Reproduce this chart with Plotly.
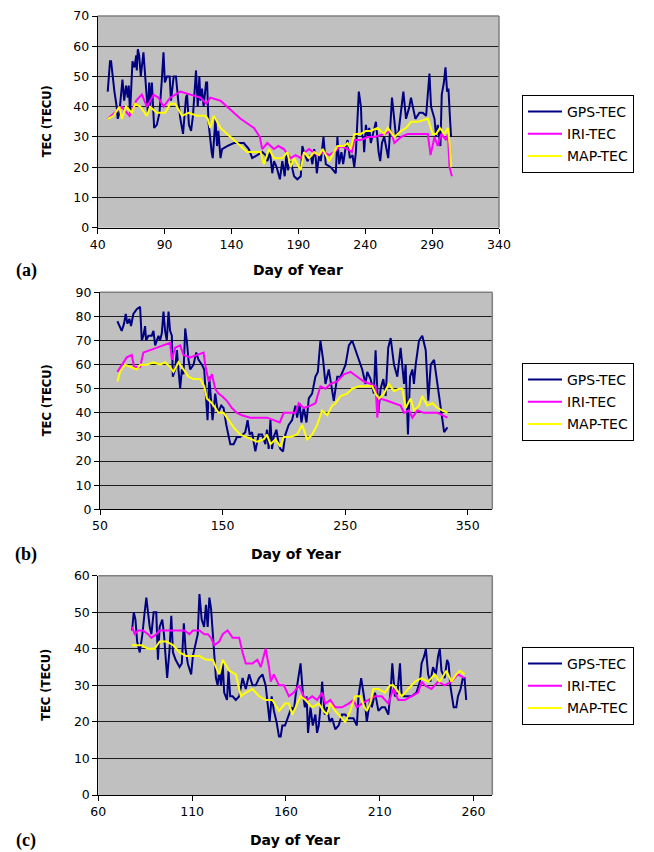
import plotly.graph_objects as go

# page is drawn with an 8px body margin, so the figure is 8px smaller and shifted
OFF = 8
W, H = 654 - OFF, 852 - OFF

# ---------------- Panel (a) ----------------
a_gps_day = [47.5, 49.2, 50, 51.2, 52.5, 54.2, 55, 56.2, 58.5, 59.8, 61.2, 62.5, 63.2, 64.2, 66, 67.5, 68.8, 69.2, 70, 71,
             72.2, 74.2, 75.5, 76.8, 77.5, 78.5, 79.2, 80.5, 81.2, 82.2, 84.2, 86.2, 87.8, 88.5, 89.2, 90.2, 91.8, 93.8, 94.8, 96.8,
             98.5, 100.2, 101.8, 103.8, 105, 106, 106.8, 108.2, 109.8, 111.2, 113.5, 114.8, 116, 116.8, 118, 119.2, 121, 121.8, 122.8, 123.8,
             125.2, 126, 127.2, 128, 129.2, 130.2, 131.8, 133, 136.8, 141.8, 149.2, 153, 155.5, 159.2, 163, 165.5, 166.8, 168.8, 170.5, 171.8,
             173.8, 176.2, 178, 179.8, 181.2, 182.2, 184.2, 186.8, 189.2, 191.8, 193, 194.2, 196.8, 199.2, 200.5, 201.8, 203, 203.8, 205.5, 206.8,
             208.8, 210.5, 214.2, 218, 219.2, 220.5, 222.2, 223.5, 225.5, 226.8, 228.5, 230.5, 231.8, 233, 234.2, 235.2, 236.8, 237.5, 238.8, 239.2,
             240.5, 241.8, 243, 244.2, 248, 250, 251.2, 252.5, 254.2, 256.2, 257.2, 258, 260, 261.2, 263, 265, 266.8, 268.5, 270.5, 273,
             274.2, 276.2, 277.5, 280.5, 283, 285.5, 288, 289.2, 290.5, 291.8, 293, 294.2, 296.2, 297.2, 298.8, 300, 301.2, 302.2, 303.5, 304.2]
a_gps_tec = [45, 55, 55, 50, 45, 40, 36, 38, 49, 42, 47, 43, 47, 38, 55, 53, 57, 52, 59, 57,
             50, 58, 50, 44, 38, 48, 40, 48, 43, 33, 34, 38, 48, 56, 58, 48, 50, 50, 42, 50,
             50, 42, 36, 31, 38, 43, 44, 34, 32, 37, 52, 40, 50, 42, 46, 40, 48, 48, 35, 30,
             25, 23, 32, 36, 27, 32, 23, 26, 27, 28, 28, 26, 23, 24, 25, 24, 22, 25, 18, 22,
             20, 16, 22, 17, 25, 19, 22, 17, 16, 17, 27, 25, 22, 24, 21, 26, 23, 18, 24, 22,
             30, 21, 20, 18, 30, 21, 25, 21, 27, 29, 23, 24, 20, 25, 39, 45, 40, 31, 29, 25,
             34, 30, 33, 28, 35, 25, 22, 28, 30, 25, 23, 28, 43, 38, 30, 32, 38, 45, 36, 40,
             43, 38, 36, 38, 38, 37, 51, 40, 38, 36, 30, 34, 27, 44, 48, 53, 45, 46, 35, 30]

a_iri_day = [47.5, 53, 58, 63.8, 68.8, 73, 76.8, 81.8, 85.5, 89.2, 94.2, 101.8, 109.2, 116.8, 121.2, 124.2, 131.8, 136.8, 146.8, 156.8,
             161.2, 163, 166.8, 171.8, 175, 179.2, 184.2, 188, 191.8, 195, 198, 204.2, 209.2, 213, 216.8, 221.8, 226.8, 230, 231.8, 236.8,
             241.8, 246.8, 254.2, 259.2, 261.8, 266.8, 271.8, 286.8, 288.8, 291.8, 294.2, 296.8, 300.5, 301.8, 303, 304.8]
a_iri_tec = [36, 38, 40, 37, 42, 44, 40, 44, 43, 40, 43, 45, 44, 43, 41, 43, 42, 40, 36, 33,
             30, 26, 28, 26, 27, 26, 23, 24, 23, 25, 26, 24, 25, 24, 25, 27, 26, 25, 29, 29,
             30, 30, 31, 32, 28, 30, 31, 31, 24, 30, 27, 31, 29, 31, 20, 17]

a_map_day = [47.5, 51.8, 56.2, 58, 61.2, 65.5, 68, 71.8, 76.8, 79.2, 84.2, 90.5, 94.2, 98, 103, 108, 114.2, 120.5, 122.2, 124.2,
             126.8, 131.8, 141.8, 151.8, 161.8, 164.2, 168, 171.8, 178, 181.8, 184.2, 186.8, 190.5, 191.8, 194.2, 198, 201.8, 205.5, 208.2, 213,
             216.8, 219.2, 224.2, 226.8, 229.2, 231.8, 236.8, 240.5, 244.2, 249.2, 254.2, 256.8, 261.8, 266.8, 270.5, 274.2, 279.2, 286.8, 290.5, 293,
             295.8, 299.2, 301.8, 303, 304.2]
a_map_tec = [36, 37, 40, 36, 40, 38, 41, 40, 37, 40, 38, 38, 41, 41, 37, 38, 37, 37, 36, 33,
             37, 33, 29, 25, 25, 21, 26, 23, 23, 25, 20, 23, 20, 19, 25, 23, 25, 24, 26, 22,
             25, 27, 27, 28, 26, 31, 31, 32, 32, 33, 31, 33, 30, 32, 33, 35, 35, 36, 31, 31,
             33, 31, 33, 28, 20]

# ---------------- Panel (b) ----------------
b_gps_day = [64.2, 67.7, 69.6, 71, 72.3, 74, 75.3, 77.2, 80, 82.7, 84.1, 85.4, 86.8, 87.6, 89.5, 92.2, 93.6, 95, 97.7, 99,
             100.4, 101.8, 103.1, 104.5, 105.9, 107.2, 108.6, 109.4, 111.3, 112.7, 114, 115.4, 116.8, 118.1, 119.5, 120.8, 122.2, 123.6, 126.3, 128.5,
             130.4, 133.1, 135, 136.4, 137.7, 139.1, 140.5, 141.8, 144, 146.2, 148.9, 150.8, 153, 154.9, 156.3, 159, 161.7, 164.4, 168.5, 170.4,
             172.1, 174, 176.7, 179.4, 182.2, 184.9, 186.2, 187.6, 189, 190.3, 191.7, 193.9, 195.8, 197.1, 199.3, 201.2, 203.9, 206.7, 208, 209.4,
             210.8, 212.7, 214.3, 216.2, 218.4, 220.3, 223, 225.7, 227.7, 229.8, 232, 233.9, 236.6, 238.8, 240.7, 243.5, 246.2, 250.3, 253, 255.7,
             259.8, 263.9, 266.6, 268, 270.7, 273.4, 274.8, 277, 278.9, 281.1, 283, 285.1, 287.1, 289.8, 292.5, 295.2, 298, 299.3, 301.2, 302.9,
             304.8, 306.1, 307.5, 310.2, 312.9, 315.7, 317.8, 319.8, 322.5, 325.2, 328, 330.7, 333.4]
b_gps_tec = [78, 74, 77, 81, 77, 79, 76, 81, 83, 84, 70, 72, 76, 70, 72, 72, 74, 68, 72, 70,
             73, 82, 74, 70, 82, 74, 72, 55, 58, 66, 58, 50, 58, 56, 75, 70, 62, 58, 60, 65,
             62, 60, 58, 44, 37, 55, 45, 37, 48, 40, 43, 42, 35, 30, 27, 27, 30, 30, 32, 37,
             31, 32, 24, 31, 31, 27, 33, 25, 37, 25, 30, 33, 27, 25, 24, 31, 35, 37, 40, 43,
             38, 44, 36, 42, 36, 46, 48, 55, 57, 70, 62, 52, 58, 50, 45, 55, 55, 60, 68, 70,
             64, 58, 52, 57, 54, 48, 66, 40, 50, 54, 47, 67, 71, 60, 55, 67, 52, 60, 31, 55,
             58, 52, 60, 70, 72, 66, 45, 60, 62, 52, 40, 32, 34]

b_iri_day = [64.2, 67.7, 71.8, 75.9, 77.8, 82.7, 85.4, 90.9, 96.3, 101.8, 107.2, 108.6, 111.3, 115.4, 118.1, 123.6, 129, 134.5, 135.8, 138.6,
             141.3, 144, 146.7, 149.5, 153.5, 157.6, 161.7, 165.8, 172.6, 179.4, 186.2, 191.7, 196.6, 199.9, 205.3, 209.4, 212.1, 216.2, 221.7, 225.7,
             229.8, 233.9, 238, 243.5, 248.9, 254.4, 259.8, 265.3, 270.7, 274.8, 276.2, 277.5, 284.3, 289.8, 295.2, 298, 302, 304.8, 308.9, 314.3,
             319.8, 325.2, 333.4]
b_iri_tec = [57, 60, 63, 64, 59, 59, 65, 66, 67, 68, 69, 62, 67, 68, 64, 63, 64, 65, 60, 53,
             56, 50, 48, 47, 45, 42, 40, 39, 38, 38, 38, 37, 36, 40, 40, 40, 44, 42, 43, 44,
             51, 50, 52, 53, 56, 57, 55, 53, 52, 51, 38, 46, 45, 44, 43, 40, 41, 38, 41, 40,
             40, 40, 38]

b_map_day = [64.2, 66.3, 70.4, 74.5, 80, 82.7, 88.1, 93.6, 99, 103.1, 107.2, 109.9, 114, 118.1, 122.2, 126.3, 131.7, 135, 137.2, 141.3,
             144, 146.7, 150.8, 154.9, 159, 164.4, 169.9, 174, 178.1, 183.5, 186.2, 189, 193.1, 197.1, 199.9, 205.3, 210.8, 214.9, 219, 223,
             227.1, 231.2, 235.3, 239.4, 242.1, 246.2, 251.6, 255.7, 261.2, 266.6, 272.1, 274.8, 277.5, 281.6, 285.7, 289.8, 293.9, 296.6, 299.3, 303.4,
             306.1, 310.2, 312.9, 317, 321.1, 325.2, 333.4]
b_map_tec = [53, 57, 60, 59, 58, 60, 60, 61, 60, 61, 59, 57, 61, 58, 55, 54, 54, 51, 46, 44,
             42, 40, 40, 37, 34, 31, 30, 29, 28, 29, 31, 27, 29, 26, 30, 30, 31, 35, 29, 31,
             35, 41, 39, 43, 44, 47, 48, 50, 51, 51, 51, 48, 46, 48, 52, 49, 50, 50, 42, 46,
             41, 43, 47, 43, 44, 42, 40]

# ---------------- Panel (c) ----------------
c_gps_day = [78, 78.9, 79.8, 80.7, 82.1, 83.5, 84.7, 85.6, 86.5, 87.4, 88.3, 89.5, 90.9, 91.8, 92.7, 94.1, 95, 95.7, 96.7, 98,
             98.9, 99.8, 101.2, 103.3, 104.5, 105.6, 106.5, 107.7, 109.5, 110.4, 111.8, 113, 113.9, 115.1, 116.4, 117.4, 118.3, 119.2, 120.1, 121,
             121.8, 122.7, 123.6, 124.5, 125.4, 126.3, 127.1, 128.6, 129.4, 130.3, 131.6, 133.3, 135.1, 136.9, 138.6, 140.4, 142.2, 143.9, 145.7, 147.5,
             149.2, 150.1, 151.3, 152.4, 153.6, 155, 156.3, 157.2, 158.1, 159.5, 160.7, 161.6, 163, 164.2, 165.1, 166.4, 167.8, 169, 170.1, 171,
             171.8, 173.1, 174.3, 175.7, 176.6, 177.5, 178.6, 179.3, 180.7, 181.9, 183.3, 184.6, 186.3, 188.1, 189.9, 191.6, 193.4, 196, 197.8, 198.7,
             200.1, 201.3, 202.2, 203.1, 204.9, 205.8, 207.5, 209.3, 211.1, 212.8, 214.6, 216, 216.7, 218.1, 219.5, 220.8, 221.7, 223.4, 227, 229.6,
             231.4, 232.3, 233.7, 234.6, 235.8, 237, 238.4, 239.9, 241.1, 242, 242.9, 244.6, 245.9, 246.7, 247.6, 248.5, 249.4, 250.8, 251.7, 253.1,
             254.3, 255.2, 255.8, 256.1]
c_gps_tec = [45, 50, 48, 42, 39, 44, 50, 54, 50, 46, 44, 50, 50, 37, 46, 48, 44, 38, 32, 40,
             49, 39, 37, 35, 36, 47, 40, 36, 33, 38, 41, 44, 55, 48, 46, 52, 46, 54, 51, 44,
             40, 32, 30, 34, 30, 36, 28, 26, 34, 27, 27, 26, 27, 32, 29, 33, 30, 30, 32, 33,
             30, 25, 20, 27, 23, 20, 16, 16, 19, 19, 21, 22, 24, 23, 27, 31, 36, 28, 24, 27,
             17, 24, 19, 22, 17, 19, 25, 31, 22, 24, 20, 21, 18, 19, 22, 22, 21, 21, 19, 27,
             32, 28, 25, 20, 26, 24, 28, 23, 24, 24, 22, 30, 36, 27, 28, 36, 27, 27, 27, 28,
             31, 36, 38, 40, 33, 31, 35, 33, 38, 40, 34, 32, 37, 36, 30, 27, 24, 24, 27, 29,
             32, 32, 28, 26]

c_iri_day = [78, 79.4, 81.2, 83.9, 86.5, 88.3, 90.9, 92.7, 96.2, 99.8, 103.3, 105.9, 108.6, 110.4, 113.9, 116.5, 118.3, 120.1, 121.8, 124.5,
             126.3, 128.9, 131.6, 135.1, 136.9, 138.6, 142.2, 144.8, 146.6, 149.2, 151, 151.9, 153.6, 156.3, 158.9, 161.6, 164.2, 166.9, 169.5, 171.3,
             174, 176.6, 179.3, 181, 183.7, 186.3, 189.9, 193.4, 196, 197.8, 200.5, 204, 207.5, 211.1, 214.6, 217.2, 219.9, 223.4, 227, 230.5,
             232.3, 234.1, 237.6, 241.1, 244.6, 248.2, 251.7, 255.2]
c_iri_tec = [46, 44, 45, 45, 44, 43, 44, 45, 45, 45, 45, 45, 44, 45, 45, 44, 44, 43, 41, 42,
             44, 45, 43, 43, 39, 36, 36, 37, 35, 40, 35, 31, 33, 30, 30, 27, 28, 30, 27, 26,
             27, 26, 28, 25, 26, 24, 24, 25, 26, 24, 25, 26, 27, 27, 25, 29, 26, 26, 27, 28,
             31, 30, 29, 31, 30, 31, 33, 32]

c_map_day = [78, 80.3, 83, 86.5, 90, 92.7, 96.2, 99.8, 103.3, 106.8, 110.4, 113.9, 117.4, 121, 122.7, 124.5, 126.3, 129.8, 133.3, 136,
             138.6, 142.2, 145.7, 149.2, 152.8, 156.3, 159.5, 161.6, 163.4, 165.1, 167.8, 170.4, 174, 177.5, 180.1, 181.9, 183.7, 186.3, 189.9, 191.6,
             194.3, 196.9, 199.6, 201.9, 203.1, 204.9, 206.6, 209.3, 212.8, 215.5, 217.2, 219.9, 221.7, 225.2, 228.7, 232.3, 235.8, 239.3, 241.9, 245.5,
             248.2, 250.8, 252.6, 255.2]
c_map_tec = [41, 41, 41, 40, 40, 42, 42, 41, 39, 38, 38, 38, 37, 37, 35, 33, 37, 34, 33, 27,
             28, 29, 27, 26, 26, 23, 25, 25, 22, 24, 27, 26, 24, 25, 23, 22, 25, 23, 21, 20,
             23, 27, 27, 24, 23, 25, 29, 29, 28, 30, 30, 28, 27, 29, 31, 32, 31, 33, 31, 34,
             31, 33, 34, 33]

series_names = ["GPS-TEC", "IRI-TEC", "MAP-TEC"]
series_colors = ["#000080", "#FF00FF", "#FFFF00"]

panels = [
    dict(data=[(a_gps_day, a_gps_tec), (a_iri_day, a_iri_tec), (a_map_day, a_map_tec)],
         xa="x", ya="y", leg="legend"),
    dict(data=[(b_gps_day, b_gps_tec), (b_iri_day, b_iri_tec), (b_map_day, b_map_tec)],
         xa="x2", ya="y2", leg="legend2"),
    dict(data=[(c_gps_day, c_gps_tec), (c_iri_day, c_iri_tec), (c_map_day, c_map_tec)],
         xa="x3", ya="y3", leg="legend3"),
]

fig = go.Figure()
for pi, p in enumerate(panels):
    for si, ((xs, ys), nm, col) in enumerate(zip(p["data"], series_names, series_colors)):
        fig.add_trace(go.Scatter(x=xs, y=ys, mode="lines", name=nm,
                                 line=dict(color=col, width=2),
                                 legendgroup="g%d_%d" % (pi, si),
                                 xaxis=p["xa"], yaxis=p["ya"], legend=p["leg"]))

FONT = "DejaVu Sans"
tickfont = dict(family=FONT, size=12.5, color="black")


def px_x(v):
    return (v - OFF) / W


def px_y(v):
    return 1 - (v - OFF) / H


def xaxis(domain, rng, tickvals, anchor):
    return dict(domain=domain, range=rng, tickvals=tickvals, anchor=anchor,
                showgrid=False, zeroline=False, showline=True, linecolor="black",
                linewidth=1, ticks="outside", ticklen=5, tickcolor="black",
                tickfont=tickfont, fixedrange=True, automargin=False,
                ticklabeloverflow="allow")


def yaxis(domain, rng, dtick, anchor):
    return dict(domain=domain, range=rng, dtick=dtick, anchor=anchor,
                showgrid=True, gridcolor="#1e1e1e", gridwidth=1, zeroline=False,
                showline=True, linecolor="black", linewidth=1, ticks="outside",
                ticklen=5, tickcolor="black", tickfont=tickfont, fixedrange=True,
                automargin=False, ticklabeloverflow="allow")


layout_geom = [
    # (x px left, x px right, y px top, y px bottom, xrange, xticks, yrange)
    (97.7, 499.0, 16.0, 227.7, [40, 340], [40, 90, 140, 190, 240, 290, 340], [0, 70]),
    (100.0, 492.3, 292.3, 509.3, [50, 370], [50, 150, 250, 350], [0, 90]),
    (98.3, 492.3, 575.7, 795.0, [60, 270], [60, 110, 160, 210, 260], [0, 60]),
]

axes = {}
shapes = []
annotations = []
legend_tops = [95, 363, 647]
title_y = [270, 554, 840]
label_y = [270, 554, 840]
labels = ["(a)", "(b)", "(c)"]
for i, (xl, xr, yt, yb, xr_, xt, yr_) in enumerate(layout_geom):
    sfx = "" if i == 0 else str(i + 1)
    xd = [px_x(xl), px_x(xr)]
    yd = [px_y(yb), px_y(yt)]
    axes["xaxis" + sfx] = xaxis(xd, xr_, xt, "y" + sfx)
    axes["yaxis" + sfx] = yaxis(yd, yr_, 10, "x" + sfx)
    # grey frame on top and right of plot area
    shapes.append(dict(type="line", xref="x%s domain" % sfx, yref="y%s domain" % sfx,
                       x0=0, x1=1, y0=1, y1=1, line=dict(color="#808080", width=1.5), layer="above"))
    shapes.append(dict(type="line", xref="x%s domain" % sfx, yref="y%s domain" % sfx,
                       x0=1, x1=1, y0=0, y1=1, line=dict(color="#808080", width=1.5), layer="above"))
    # axis titles
    annotations.append(dict(text="<b>Day of Year</b>", xref="paper", yref="paper",
                            x=px_x((xl + xr) / 2), y=px_y(title_y[i]), showarrow=False,
                            xanchor="center", yanchor="middle",
                            font=dict(family=FONT, size=14, color="black")))
    annotations.append(dict(text="<b>TEC (TECU)</b>", xref="paper", yref="paper",
                            x=px_x(46.5), y=px_y((yt + yb) / 2), showarrow=False, textangle=-90,
                            xanchor="center", yanchor="middle",
                            font=dict(family=FONT, size=11.5, color="black")))
    annotations.append(dict(text="<b>%s</b>" % labels[i], xref="paper", yref="paper",
                            x=px_x(26), y=px_y(label_y[i]), showarrow=False,
                            xanchor="center", yanchor="middle",
                            font=dict(family="Liberation Serif", size=18, color="black")))
    leg = dict(x=px_x(522), y=px_y(legend_tops[i]), xanchor="left", yanchor="top",
               bgcolor="white", bordercolor="black", borderwidth=1,
               font=dict(family=FONT, size=14, color="black"), itemwidth=34,
               tracegroupgap=1)
    axes["legend" + sfx] = leg

fig.update_layout(
    width=W, height=H,
    margin=dict(l=0, r=0, t=0, b=0, autoexpand=False),
    paper_bgcolor="white",
    plot_bgcolor="#C0C0C0",
    showlegend=True,
    shapes=shapes,
    annotations=annotations,
    **axes,
)

fig.write_html("out.html")
